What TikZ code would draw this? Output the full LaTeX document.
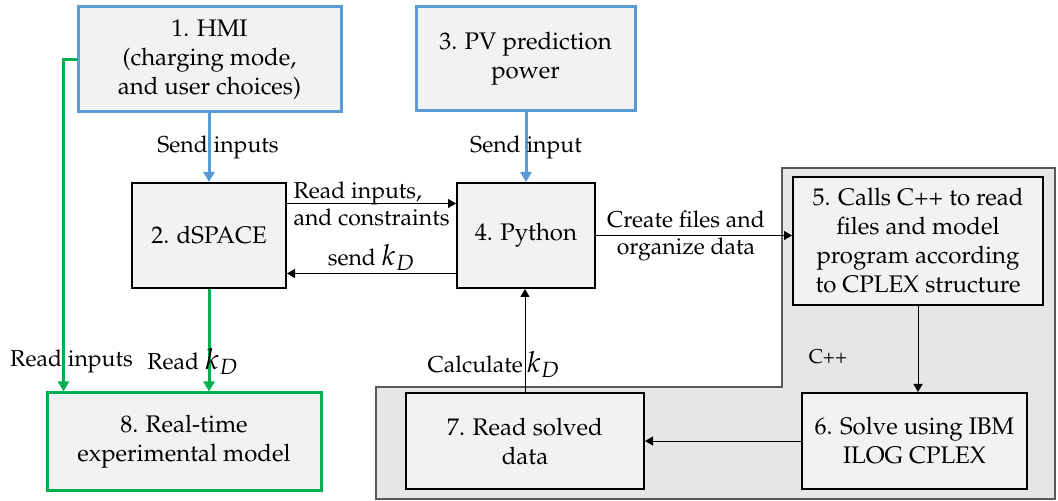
\documentclass[tikz,border=0pt]{standalone}
\usepackage[T1]{fontenc}
\usepackage{mathpazo}
\usetikzlibrary{arrows.meta, backgrounds}

\definecolor{hmiblue}{HTML}{5B9BD5}
\definecolor{rtgreen}{HTML}{00B050}
\definecolor{boxfill}{HTML}{F2F2F2}
\definecolor{zonefill}{HTML}{E6E6E6}
\definecolor{zoneline}{HTML}{595959}

\newcommand{\kd}{{\fontsize{14.5}{14.5}\selectfont$k_D$}}

\begin{document}
\begin{tikzpicture}[x=0.5pt, y=-0.5pt,
    block/.style={draw, line width=1pt, fill=boxfill, align=center, inner sep=0pt,
                  font=\fontsize{12}{14.5}\selectfont},
    inblock/.style={block, draw=hmiblue, line width=1.5pt},
    outblock/.style={block, draw=rtgreen, line width=1.5pt},
    arrow/.style={-{Triangle[length=4pt,width=4.5pt]}, line width=0.5pt},
    inarrow/.style={-{Triangle[length=5pt,width=5.5pt]}, line width=1.5pt, draw=hmiblue},
    outarrow/.style={-{Triangle[length=5pt,width=5.5pt]}, line width=1.5pt, draw=rtgreen},
    lbl/.style={font=\fontsize{11.5}{13.5}\selectfont, inner sep=1pt},
    zone/.style={fill=zonefill, draw=zoneline, line width=0.8pt},
]
\useasboundingbox (0,0) rectangle (1058,501);

% Grid layout (pixel units, y downwards)
% top row : HMI, PV   middle row : dSPACE, Python, C++ call   bottom row : model, read, solve

\node[inblock, minimum width=131.5pt, minimum height=52.5pt] at (209.5,59.5) (hmi)
     {1. HMI\\(charging mode,\\and user choices)};
\node[inblock, minimum width=109.5pt, minimum height=52pt] at (525.5,59) (pv)
     {3. PV prediction\\power};
\node[block, minimum width=77pt, minimum height=52.5pt] at (209,235.5) (dspace) {2. dSPACE};
\node[block, minimum width=69pt, minimum height=52.5pt] at (526,235.5) (python) {4. Python};
\node[block, minimum width=125pt, minimum height=64pt] at (918,241) (calls)
     {5. Calls C++ to read\\files and model\\program according\\to CPLEX structure};
\node[block, minimum width=112.5pt, minimum height=48pt] at (914.5,441) (solve)
     {6. Solve using IBM\\ILOG CPLEX};
\node[block, minimum width=119pt, minimum height=48pt] at (525,441) (solved)
     {7. Read solved\\data};
\node[outblock, minimum width=137pt, minimum height=48.5pt] at (184,441.5) (rtmodel)
     {8. Real-time\\experimental model};
\node[font=\fontsize{10}{12}\selectfont] at (828,357) (cpp) {C++};

% inputs (blue)
\draw[inarrow] (hmi.south -| dspace.north) -- node[lbl, xshift=4.5pt]{Send inputs} (dspace.north);
\draw[inarrow] (pv.south -| python.north) -- node[lbl]{Send input} (python.north);

% dSPACE <-> Python
\draw[arrow] ([yshift=16pt]dspace.east) -- node[lbl, align=left]{Read inputs,\\and constraints}
     ([yshift=16pt]python.west);
\draw[arrow] ([yshift=-19pt]python.west) -- node[lbl, above]{send \kd} ([yshift=-19pt]dspace.east);

% Python -> C++ -> CPLEX -> Python
\draw[arrow] (python.east) -- node[lbl, align=center, xshift=-4pt]{Create files and\\organize data}
     (python.east -| calls.west);
\draw[arrow] (calls.south) -- (calls.south |- solve.north);
\draw[arrow] (solve.west) -- (solve.west -| solved.east);
\draw[arrow] (solved.north) -- node[lbl, pos=0.27, xshift=-15.5pt]{Calculate\hspace{2pt}\kd}
     (solved.north |- python.south);

% real-time model (green)
\draw[outarrow] (hmi.west) -| node[lbl, pos=0.955, xshift=4pt]{Read inputs} ([xshift=9pt]rtmodel.north west);
\draw[outarrow] (dspace.south) -- node[lbl, pos=0.71, xshift=-8pt]{Read\hspace{3pt}\kd} (dspace.south |- rtmodel.north);

% C++ zone
\begin{scope}[on background layer]
    \draw[zone] (782,168) -- (1055,168) -- (1055,499) -- (376,499) -- (376,387) -- (782,387) -- cycle;
\end{scope}
\end{tikzpicture}
\end{document}
